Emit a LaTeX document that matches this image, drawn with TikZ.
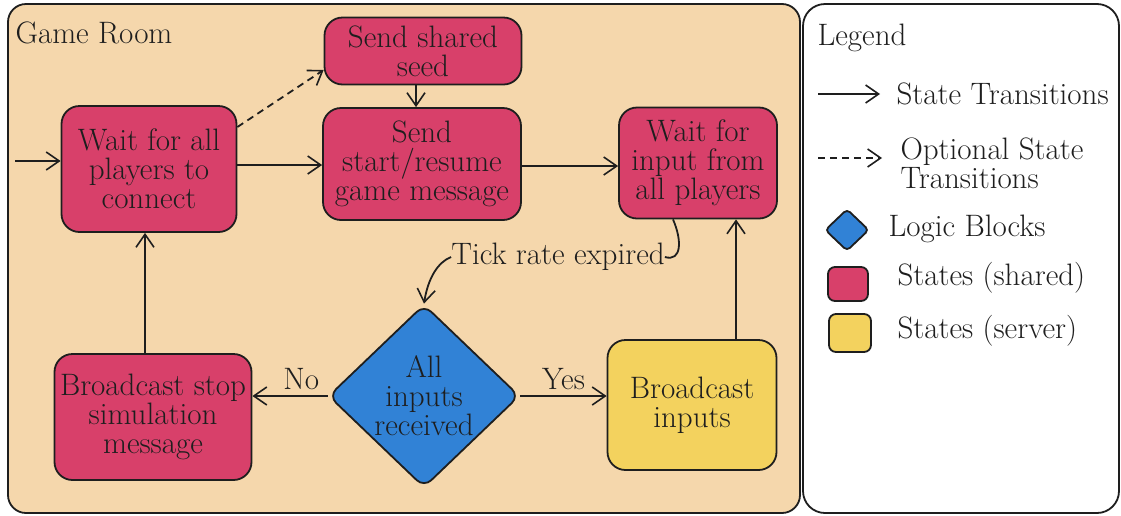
\documentclass[tikz,border=0pt]{standalone}
\usetikzlibrary{arrows.meta,shapes.geometric}
\definecolor{roomfill}{HTML}{F5D7AC}
\definecolor{sharedfill}{HTML}{D8406A}
\definecolor{serverfill}{HTML}{F3D25E}
\definecolor{logicfill}{HTML}{3182D6}
\definecolor{ink}{HTML}{1E1E1E}
\begin{document}
\begin{tikzpicture}[x=1pt,y=-1pt,
  every node/.style={font=\fontsize{31}{29}\selectfont, text=ink},
  panel/.style={draw=ink, line width=1.8pt, rounded corners=18pt},
  state/.style={draw=ink, line width=1.8pt, rounded corners=18pt, align=center, inner sep=1pt},
  shared/.style={state, fill=sharedfill},
  server/.style={state, fill=serverfill},
  logic/.style={diamond, draw=ink, line width=1.8pt, rounded corners=10pt, fill=logicfill, align=center, inner sep=0pt},
  trans/.style={draw=ink, line width=1.8pt, -{Straight Barb[length=13pt,width=18pt,line width=1.6pt]}},
  opttrans/.style={trans, dashed, dash pattern=on 7pt off 5pt},
  lbl/.style={anchor=west, align=left}
]
\useasboundingbox (0,0) rectangle (1121,515);

% panels
\draw[panel, fill=roomfill] (8,4) rectangle (800,513);
\draw[panel, fill=white, rounded corners=22pt] (803,4) rectangle (1119,513);
\node[anchor=west] (roomtitle) at (12,33) {Game Room};

% states
\node[shared, minimum width=197pt, minimum height=67pt] (seed) at (423,51) {Send shared\\seed};
\node[shared, minimum width=175pt, minimum height=126pt] (wait) at (149,169) {Wait for all\\players to\\connect};
\node[shared, minimum width=198pt, minimum height=112pt] (start) at (422,164) {Send\\start/resume\\game message};
\node[shared, minimum width=158pt, minimum height=111pt] (winp) at (698,163) {Wait for\\input from\\all players};
\node[logic, minimum width=191pt, minimum height=183pt] (dia) at (424,396) {All\\inputs\\received};
\node[shared, minimum width=197pt, minimum height=126pt] (stop) at (153,417) {Broadcast stop\\simulation\\message};
\node[server, minimum width=169pt, minimum height=130pt] (bcast) at (692,405) {Broadcast\\inputs};

% transitions
\coordinate (entry) at (15,161);
\draw[trans] (entry) -- (entry -| wait.west);
\draw[trans] (wait.east |- 0,165) -- (start.west |- 0,165);
\draw[opttrans] (wait.east |- 0,127) -- (seed.west |- 0,70);
\draw[trans] (seed.south -| 416,0) -- (start.north -| 416,0);
\draw[trans] (start.east |- 0,166) -- (winp.west |- 0,166);
\draw[trans] (bcast.north -| 736,0) -- (winp.south -| 736,0);
\draw[trans] (stop.north -| 145,0) -- (wait.south -| 145,0);

\node[inner sep=0pt] (tick) at (558,257) {Tick rate expired};
\draw[draw=ink, line width=1.8pt] (winp.south -| 673,0) .. controls (682,240) and (682,262) .. (tick.east);
\draw[trans] (tick.west) .. controls (438,262) and (428,278) .. (dia.north);

\draw[trans] (dia.west) -- (stop.east |- dia.west) node[pos=0.35, above=2pt] (no) {No};
\draw[trans] (dia.east) -- (bcast.west |- dia.east) node[pos=0.5, above=2pt] (yes) {Yes};

% legend
\node[anchor=west] (legtitle) at (814,38) {Legend};
\coordinate (l1a) at (818,94);
\coordinate (l1b) at (880,94);
\draw[trans] (l1a) -- (l1b);
\node[lbl] (l1t) at (893,94) {State Transitions};
\coordinate (l2a) at (818,158);
\coordinate (l2b) at (882,158);
\draw[opttrans] (l2a) -- (l2b);
\node[lbl] (l2t) at (897,163) {Optional State\\Transitions};
\node[diamond, draw=ink, line width=1.8pt, rounded corners=4pt, fill=logicfill, minimum width=44pt, minimum height=42pt, inner sep=0pt] (l3) at (847,230) {};
\node[lbl] (l3t) at (885,229) {Logic Blocks};
\node[draw=ink, line width=1.8pt, rounded corners=7pt, fill=sharedfill, minimum width=40pt, minimum height=34pt, inner sep=0pt] (l4) at (848,284) {};
\node[lbl] (l4t) at (894,278) {States (shared)};
\node[draw=ink, line width=1.8pt, rounded corners=7pt, fill=serverfill, minimum width=42pt, minimum height=38pt, inner sep=0pt] (l5) at (850,333) {};
\node[lbl] (l5t) at (894,331) {States (server)};
\end{tikzpicture}
\end{document}
